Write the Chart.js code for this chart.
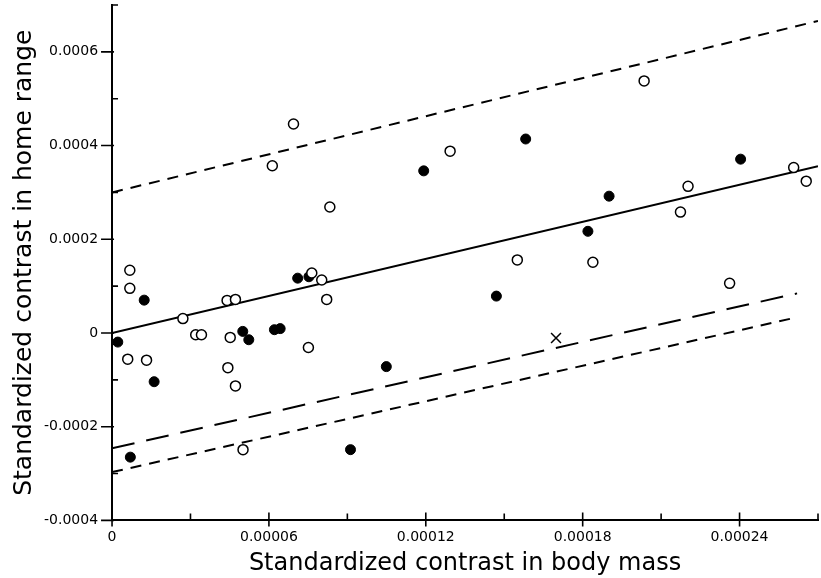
<!DOCTYPE html>
<html>
<head>
<meta charset="utf-8">
<script src="https://cdn.jsdelivr.net/npm/chart.js@4.4.1/dist/chart.umd.min.js"></script>
<style>
  body { margin: 0; background: #fff; }
  #wrap { width: 821px; height: 578px; }
</style>
</head>
<body>
<div id="wrap"><canvas id="contrastChart"></canvas></div>
<script>
// open circles
const openX = [0.0000068, 0.0000068, 0.0000060, 0.0000132, 0.0000271, 0.0000320, 0.0000342, 0.0000440,
  0.0000472, 0.0000452, 0.0000443, 0.0000472, 0.0000764, 0.0000802, 0.0000821, 0.0000751, 0.0000501,
  0.0000694, 0.0000613, 0.0000833, 0.0001293, 0.0002035, 0.0002607, 0.0002655, 0.0002203, 0.0002174,
  0.0001550, 0.0001839, 0.0002362];
const openY = [0.000134, 0.0000953, -0.0000559, -0.000058, 0.0000307, -0.0000037, -0.0000037, 0.0000695,
  0.0000716, -0.0000094, -0.000074, -0.000113, 0.000128, 0.000113, 0.0000716, -0.000031, -0.000249,
  0.000446, 0.000357, 0.000269, 0.000388, 0.000538, 0.000353, 0.000324, 0.000313, 0.000258,
  0.000156, 0.000151, 0.000106];

// filled circles
const filledX = [0.0000123, 0.0000022, 0.0000161, 0.0000500, 0.0000523, 0.0000621, 0.0000643, 0.0000710,
  0.0000753, 0.0000070, 0.0001192, 0.0001049, 0.0000912, 0.0001582, 0.0002404, 0.0001901, 0.0001820,
  0.0001470];
const filledY = [0.0000701, -0.0000194, -0.000104, 0.0000034, -0.0000144, 0.000007, 0.0000093, 0.000117,
  0.00012, -0.000265, 0.000346, -0.0000718, -0.000249, 0.000414, 0.000371, 0.000292, 0.000217,
  0.0000787];

// the single "x" point
const crossX = [0.0001698];
const crossY = [-0.0000108];

// fitted line and bands (end points)
const fitX = [0, 0.00027];
const fitY = [0, 0.000356];
const upperX = [0, 0.00027];
const upperY = [0.0003, 0.000666];
const lowerX = [0, 0.000262];
const lowerY = [-0.000297, 0.0000336];
const longDashX = [0, 0.000262];
const longDashY = [-0.000246, 0.0000845];

const pts = (xs, ys) => xs.map((x, i) => ({ x: x, y: ys[i] }));

Chart.defaults.color = '#000';
Chart.defaults.font.family = 'DejaVu Sans';

function lineSet(xs, ys, dash) {
  return {
    data: pts(xs, ys),
    showLine: true,
    borderColor: '#000',
    borderWidth: 2,
    borderDash: dash,
    pointRadius: 0,
    fill: false,
    order: 3
  };
}

// major ticks (labelled) stick out, minor ones point into the plot
const tickMarks = {
  id: 'tickMarks',
  afterDraw(chart) {
    const ctx = chart.ctx;
    const xs = chart.scales.x, ys = chart.scales.y;
    ctx.save();
    ctx.strokeStyle = '#000';
    ctx.lineWidth = 1.6;
    ctx.beginPath();
    xs.ticks.forEach((t, i) => {
      const px = xs.getPixelForValue(t.value);
      if (i % 2 === 0) {
        ctx.moveTo(px, xs.top + 6);
        ctx.lineTo(px, xs.top - 8);
      } else {
        ctx.moveTo(px, xs.top);
        ctx.lineTo(px, xs.top - 7);
      }
    });
    ys.ticks.forEach((t, i) => {
      const py = ys.getPixelForValue(t.value);
      if (i % 2 === 0) {
        ctx.moveTo(ys.right - 11, py);
        ctx.lineTo(ys.right + 2, py);
      } else {
        ctx.moveTo(ys.right, py);
        ctx.lineTo(ys.right + 6, py);
      }
    });
    ctx.stroke();
    ctx.restore();
  }
};

new Chart(document.getElementById('contrastChart'), {
  type: 'scatter',
  data: {
    datasets: [
      lineSet(fitX, fitY, []),
      lineSet(upperX, upperY, [11, 8]),
      lineSet(lowerX, lowerY, [11, 8]),
      lineSet(longDashX, longDashY, [23, 12]),
      {
        data: pts(filledX, filledY),
        pointRadius: 5,
        pointBackgroundColor: '#000',
        pointBorderColor: '#000',
        pointBorderWidth: 1,
        clip: false,
        order: 2
      },
      {
        data: pts(openX, openY),
        pointRadius: 5,
        pointBackgroundColor: '#fff',
        pointBorderColor: '#000',
        pointBorderWidth: 1.5,
        clip: false,
        order: 1
      },
      {
        data: pts(crossX, crossY),
        pointStyle: 'crossRot',
        pointRadius: 7,
        pointBorderColor: '#000',
        pointBorderWidth: 1.5,
        clip: false,
        order: 1
      }
    ]
  },
  options: {
    responsive: true,
    maintainAspectRatio: false,
    animation: false,
    layout: { autoPadding: false, padding: { top: 5, right: 0, left: 9, bottom: 0 } },
    plugins: {
      legend: { display: false },
      tooltip: { enabled: false }
    },
    scales: {
      x: {
        type: 'linear',
        min: 0,
        max: 0.00027,
        border: { display: true, color: '#000', width: 2 },
        grid: { drawOnChartArea: false, tickLength: 6, tickColor: 'rgba(0,0,0,0)' },
        ticks: {
          stepSize: 0.00003,
          autoSkip: false,
          maxRotation: 0,
          font: { size: 14 },
          padding: 3,
          callback: v => {
            const n = Math.round(v / 0.00003);
            if (n % 2 !== 0) return '';
            return n === 0 ? '0' : (n * 0.00003).toFixed(5);
          }
        },
        title: {
          display: true,
          text: 'Standardized contrast in body mass',
          font: { size: 24 },
          padding: { top: 0, bottom: 0 }
        }
      },
      y: {
        type: 'linear',
        min: -0.0004,
        max: 0.0007,
        afterFit: s => { s.paddingTop = 0; s.paddingBottom = 0; },
        border: { display: true, color: '#000', width: 2 },
        grid: { drawOnChartArea: false, tickLength: 11, tickColor: 'rgba(0,0,0,0)' },
        ticks: {
          stepSize: 0.0001,
          autoSkip: false,
          font: { size: 14 },
          padding: 3,
          callback: v => {
            const n = Math.round(v / 0.0001);
            if (n % 2 !== 0) return '';
            return n === 0 ? '0' : (n * 0.0001).toFixed(4);
          }
        },
        title: {
          display: true,
          text: 'Standardized contrast in home range',
          font: { size: 25 },
          padding: { top: 0, bottom: 2 }
        }
      }
    }
  },
  plugins: [tickMarks]
});
</script>
</body>
</html>
